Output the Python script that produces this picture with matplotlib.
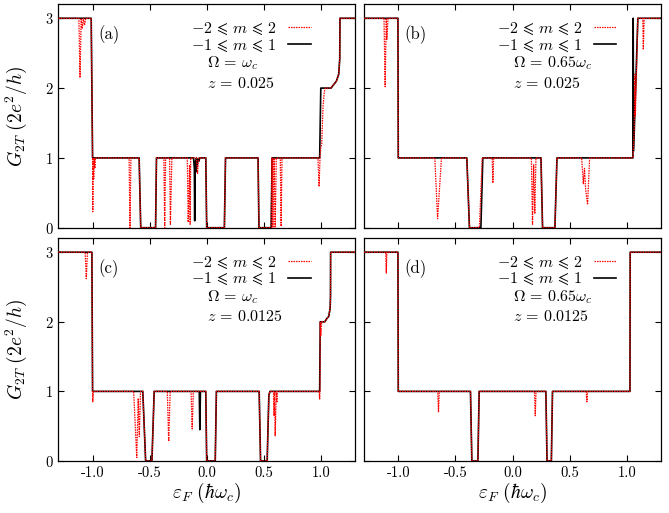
import numpy as np
import matplotlib
matplotlib.use("Agg")
import matplotlib.pyplot as plt

plt.rcParams["font.family"] = "serif"
plt.rcParams["font.serif"] = ["cmr10", "DejaVu Serif"]
plt.rcParams["mathtext.fontset"] = "cm"
plt.rcParams["axes.unicode_minus"] = False
plt.rcParams["axes.formatter.use_mathtext"] = True

# ---- data ----
# panel (a): Omega = w_c, z = 0.025
a_black_x = [-1.3, -1.012, -1.0, -0.592, -0.578, -0.448, -0.44, -0.115, -0.108, -0.105, -0.102, -0.095,
             -0.09, -0.085, -0.078, -0.07, -0.06, -0.008, 0.0, 0.155, 0.165, 0.45, 0.458, 0.565, 0.573,
             0.99, 1.0, 1.09, 1.108, 1.137, 1.157, 1.166, 1.168, 1.3]
a_black_y = [3, 3, 1, 1, 0, 0, 1, 1, 0.85, 0.1, 0.95, 0.8,
             1.0, 0.88, 0.98, 0.95, 1, 1, 0, 0, 1, 1, 0, 0, 1,
             1, 2, 2, 2.04, 2.1, 2.2, 2.42, 3, 3]
a_red_x = [-1.3, -1.12, -1.11, -1.1, -1.09, -1.08, -1.07, -1.06, -1.012, -1.0, -0.998, -0.995, -0.99,
           -0.985, -0.98, -0.975, -0.68, -0.672, -0.664, -0.592, -0.578, -0.448, -0.44, -0.375, -0.368,
           -0.36, -0.325, -0.318, -0.305, -0.17, -0.162, -0.15, -0.145, -0.14, -0.09, -0.08, -0.07,
           -0.008, 0.0, 0.155, 0.165, 0.45, 0.458, 0.565, 0.573, 0.58, 0.59, 0.6, 0.61, 0.645, 0.652,
           0.66, 0.975, 0.985, 0.993, 1.0, 1.008, 1.02, 1.031, 1.04, 1.09, 1.108, 1.137, 1.157, 1.166,
           1.168, 1.3]
a_red_y = [3, 3, 2.15, 3, 2.85, 3, 2.9, 3, 3, 1, 0.23, 1, 0.7,
           1, 0.85, 1, 1, 0, 1, 1, 0, 0, 1, 1, 0,
           1, 1, 0.05, 1, 1, 0.08, 0.9, 0.05, 1, 1, 0.78, 1,
           1, 0, 0, 1, 1, 0, 0, 1, 0.0, 1, 0.0, 1, 1, 0.02,
           1, 1, 0.59, 1, 1.15, 1.2, 1.75, 1.95, 2, 2, 2.04, 2.1, 2.2, 2.42,
           3, 3]

# panel (b): Omega = 0.65 w_c, z = 0.025
b_black_x = [-1.3, -1.003, -1.0, -0.4, -0.377, -0.277, -0.26, 0.249, 0.263, 0.371, 0.389,
             1.054, 1.056, 1.06, 1.097, 1.3]
b_black_y = [3, 3, 1, 1, 0, 0, 1, 1, 0, 0, 1,
             1, 3, 1.1, 3, 3]
b_red_x = [-1.3, -1.125, -1.115, -1.105, -1.1, -1.09, -1.003, -1.0, -0.68, -0.656, -0.622, -0.4,
           -0.377, -0.29, -0.265, -0.178, -0.172, -0.165, 0.165, 0.175, 0.185, 0.195, 0.205, 0.249,
           0.263, 0.371, 0.389, 0.605, 0.62, 0.63, 0.64, 0.657, 0.675, 1.054, 1.065, 1.07, 1.075,
           1.082, 1.097, 1.14, 1.145, 1.152, 1.3]
b_red_y = [3, 3, 2.02, 3, 2.7, 3, 3, 1, 1, 0.13, 1, 1,
           0, 0, 1, 1, 0.64, 1, 1, 0.05, 0.9, 0.2, 1, 1,
           0, 0, 1, 1, 0.63, 0.85, 0.55, 0.33, 1, 1, 1.4, 2.2, 1.6,
           2.0, 3, 3, 2.55, 3, 3]

# panel (c): Omega = w_c, z = 0.0125
c_black_x = [-1.3, -1.006, -1.0, -0.56, -0.535, -0.48, -0.46, -0.065, -0.06, -0.055, -0.008, 0.0,
             0.075, 0.085, 0.46, 0.472, 0.53, 0.545, 0.555, 0.99, 0.995, 1.035, 1.05, 1.07, 1.082,
             1.085, 1.086, 1.3]
c_black_y = [3, 3, 1, 1, 0, 0, 1, 1, 0.45, 1, 1, 0,
             0, 1, 1, 0, 0, 0.95, 1, 1, 2, 2, 2.04, 2.08, 2.2,
             2.37, 3, 3]
c_red_x = [-1.3, -1.065, -1.055, -1.045, -1.006, -1.0, -0.998, -0.993, -0.64, -0.613, -0.6, -0.59,
           -0.58, -0.56, -0.535, -0.48, -0.46, -0.345, -0.333, -0.32, -0.137, -0.127, -0.117, -0.008,
           0.0, 0.075, 0.085, 0.46, 0.472, 0.53, 0.545, 0.555, 0.585, 0.59, 0.595, 0.6, 0.61, 0.615,
           0.62, 0.985, 0.99, 0.993, 0.995, 1.0, 1.008, 1.035, 1.05, 1.07, 1.082, 1.085, 1.086, 1.3]
c_red_y = [3, 3, 2.62, 3, 3, 1, 0.85, 1, 1, 0.05, 0.9, 0.35,
           1, 1, 0, 0, 1, 1, 0.28, 1, 1, 0.46, 1, 1,
           0, 0, 1, 1, 0, 0, 0.95, 1, 1, 0.65, 1, 0.36, 1, 0.84,
           1, 1, 0.89, 1, 2, 1.8, 2, 2, 2.04, 2.08, 2.2, 2.37, 3, 3]

# panel (d): Omega = 0.65 w_c, z = 0.0125
d_black_x = [-1.3, -1.003, -1.0, -0.368, -0.356, -0.303, -0.292, 0.292, 0.302, 0.34, 0.35,
             1.028, 1.03, 1.3]
d_black_y = [3, 3, 1, 1, 0, 0, 1, 1, 0, 0, 1, 1, 3, 3]
d_red_x = [-1.3, -1.11, -1.105, -1.1, -1.003, -1.0, -0.655, -0.648, -0.641, -0.368, -0.356, -0.303,
           -0.292, 0.192, 0.199, 0.206, 0.292, 0.302, 0.34, 0.35, 0.645, 0.651, 0.657, 1.028, 1.03, 1.3]
d_red_y = [3, 3, 2.7, 3, 3, 1, 1, 0.7, 1, 1, 0, 0,
           1, 1, 0.65, 1, 1, 0, 0, 1, 1, 0.85, 1, 1, 3, 3]

panel_labels = ["(a)", "(b)", "(c)", "(d)"]
omega_texts = [r"$\Omega\,=\,\omega_c$", r"$\Omega\,=\,0.65\omega_c$",
               r"$\Omega\,=\,\omega_c$", r"$\Omega\,=\,0.65\omega_c$"]
z_texts = [r"$z\,=\,0.025$", r"$z\,=\,0.025$", r"$z\,=\,0.0125$", r"$z\,=\,0.0125$"]
legend_labels = [r"$-2\,\leqslant\,m\,\leqslant\,2$", r"$-1\,\leqslant\,m\,\leqslant\,1$"]
x_ticks = [-1.0, -0.5, 0.0, 0.5, 1.0]
x_tick_labels = ["-1.0", "-0.5", "0.0", "0.5", "1.0"]
y_ticks = [0, 1, 2, 3]

fig = plt.figure(figsize=(6.69, 5.13), dpi=100)
boxes = [[0.0872, 0.5561, 0.4435, 0.4355],
         [0.5441, 0.5561, 0.4440, 0.4355],
         [0.0872, 0.1014, 0.4435, 0.4341],
         [0.5441, 0.1014, 0.4440, 0.4341]]
curves = [(a_black_x, a_black_y, a_red_x, a_red_y),
          (b_black_x, b_black_y, b_red_x, b_red_y),
          (c_black_x, c_black_y, c_red_x, c_red_y),
          (d_black_x, d_black_y, d_red_x, d_red_y)]

for i in range(4):
    ax = fig.add_axes(boxes[i])
    bx, by, rx, ry = curves[i]
    lb, = ax.plot(bx, by, color="black", lw=1.2, zorder=2)
    lr, = ax.plot(rx, ry, color="red", lw=0.9, ls=(0, (1.2, 0.8)), zorder=3)
    ax.set_xlim(-1.3, 1.3)
    ax.set_ylim(0, 3.2)
    ax.set_xticks(x_ticks)
    ax.set_yticks(y_ticks)
    ax.tick_params(direction="in", top=True, right=True, length=4, width=0.8, labelsize=10.5)
    for s in ax.spines.values():
        s.set_linewidth(0.9)
    if i < 2:
        ax.set_xticklabels([])
    else:
        ax.set_xticklabels(x_tick_labels)
        ax.set_xlabel(r"$\varepsilon_F\ (\hbar\omega_c)$", fontsize=14)
        ax.xaxis.set_label_coords(0.5, -0.088)
    if i % 2 == 1:
        ax.set_yticklabels([])
    else:
        ax.set_ylabel(r"$G_{2T}\ (2e^2/h)$", fontsize=14)
        ax.yaxis.set_label_coords(-0.1, 0.5)
    ax.text(0.135, 0.862, panel_labels[i], transform=ax.transAxes, fontsize=12, va="center")
    ax.legend([lr, lb], legend_labels, loc="center right", bbox_to_anchor=(0.85, 0.853),
              frameon=False, markerfirst=False, fontsize=11.5, borderpad=0, borderaxespad=0,
              handlelength=1.4, handletextpad=0.7, labelspacing=0.0)
    ax.text(0.0, 2.36, omega_texts[i], fontsize=11.5, va="center", ha="left")
    ax.text(0.0, 2.07, z_texts[i], fontsize=11.5, va="center", ha="left")

fig.savefig("out.png", dpi=100)
